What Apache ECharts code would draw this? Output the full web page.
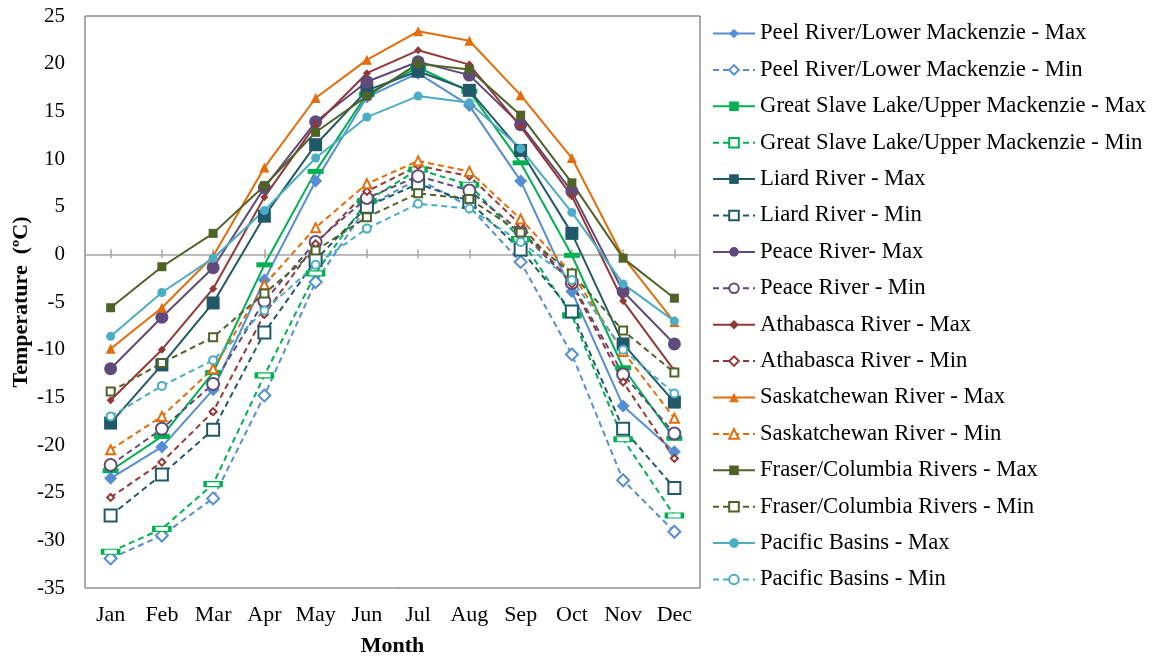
<!DOCTYPE html>
<html>
<head>
<meta charset="utf-8">
<script src="https://cdn.jsdelivr.net/npm/echarts@6/dist/echarts.min.js"></script>
<style>
  html, body { margin: 0; padding: 0; background: #fff; }
  #chart { width: 1158px; height: 658px; }
</style>
</head>
<body>
<div id="chart"></div>
<script>
// months on the x axis
var months = ['Jan', 'Feb', 'Mar', 'Apr', 'May', 'Jun', 'Jul', 'Aug', 'Sep', 'Oct', 'Nov', 'Dec'];

// monthly temperatures (ºC)
var peelMax   = [-23.5, -20.2, -14.2, -2.7, 7.7, 16.5, 19.0, 15.6, 7.7, -3.9, -15.9, -20.7];
var peelMin   = [-31.9, -29.5, -25.6, -14.8, -2.9, 5.0, 7.9, 5.0, -0.8, -10.5, -23.7, -29.1];
var gslMax    = [-22.7, -19.1, -12.4, -1.1, 8.7, 16.8, 19.6, 17.1, 9.6, -0.1, -11.9, -19.3];
var gslMin    = [-31.2, -28.8, -24.1, -12.7, -2.0, 5.6, 8.9, 7.3, 1.6, -6.4, -19.4, -27.4];
var liardMax  = [-17.7, -11.6, -5.1, 4.0, 11.5, 17.2, 19.2, 17.2, 10.9, 2.2, -9.4, -15.5];
var liardMin  = [-27.4, -23.1, -18.4, -8.2, -0.6, 5.0, 7.4, 5.5, 0.5, -6.0, -18.3, -24.5];
var peaceMax  = [-12.0, -6.6, -1.4, 7.0, 13.9, 18.1, 20.2, 18.8, 13.6, 6.6, -3.9, -9.4];
var peaceMin  = [-22.1, -18.3, -13.6, -4.9, 1.3, 5.9, 8.2, 6.7, 2.4, -3.0, -12.6, -18.8];
var athMax    = [-15.3, -10.0, -3.6, 6.0, 13.6, 19.0, 21.4, 19.9, 13.4, 6.1, -4.9, -12.2];
var athMin    = [-25.5, -21.8, -16.5, -6.3, 1.1, 6.6, 9.3, 8.2, 3.1, -3.1, -13.4, -21.4];
var saskMax   = [-9.9, -5.6, -0.2, 9.1, 16.4, 20.4, 23.4, 22.4, 16.7, 10.1, -0.3, -7.1];
var saskMin   = [-20.5, -17.0, -12.0, -3.2, 2.8, 7.4, 9.8, 8.7, 3.7, -2.0, -10.2, -17.2];
var fraserMax = [-5.6, -1.3, 2.2, 7.2, 12.8, 16.6, 20.0, 19.4, 14.6, 7.5, -0.4, -4.6];
var fraserMin = [-14.4, -11.4, -8.7, -4.1, 0.4, 3.9, 6.4, 5.8, 2.3, -2.0, -8.0, -12.4];
var pacMax    = [-8.6, -4.0, -0.4, 4.6, 10.1, 14.4, 16.6, 15.9, 11.1, 4.4, -3.1, -7.0];
var pacMin    = [-17.0, -13.8, -11.1, -5.9, -1.1, 2.7, 5.3, 4.8, 1.3, -2.7, -10.0, -14.6];

var FONT = '"Liberation Serif", "Times New Roman", serif';

// name, data, colour, symbol, size, dashed
function line(name, data, color, symbol, size, dashed) {
  return {
    name: name,
    type: 'line',
    data: data,
    symbol: symbol,
    symbolSize: size,
    showAllSymbol: true,
    lineStyle: { color: color, width: 2, type: dashed ? [6, 4] : 'solid' },
    itemStyle: { color: color, borderWidth: 1.5 },
    emphasis: { disabled: true }
  };
}

var myChart = echarts.init(document.getElementById('chart'));

myChart.setOption({
  animation: false,
  textStyle: { fontFamily: FONT },
  grid: {
    left: 85, right: 458, top: 16, bottom: 70,
    outerBoundsMode: 'none',
    containLabel: false,
    show: true, borderColor: '#595959', borderWidth: 1,
    backgroundColor: 'transparent'
  },
  legend: {
    orient: 'vertical',
    left: 707,
    top: 17,
    itemWidth: 42,
    itemHeight: 12,
    itemGap: 13.4,
    textStyle: { fontFamily: FONT, fontSize: 22.7, color: '#000', lineHeight: 22 }
  },
  xAxis: [
    {
      // labels at the bottom
      type: 'category',
      data: months,
      axisLine: { show: false, onZero: false },
      axisTick: { show: false },
      axisLabel: { interval: 0, fontFamily: FONT, fontSize: 22, color: '#000', margin: 16 },
      name: 'Month',
      nameLocation: 'middle',
      nameGap: 47,
      nameMoveOverlap: false,
      nameTextStyle: { fontFamily: FONT, fontSize: 22, fontWeight: 'bold', color: '#000' }
    },
    {
      // zero line, ticks going down
      type: 'category',
      data: months,
      axisLine: { show: true, onZero: true, onZeroAxisIndex: 0, lineStyle: { color: '#a6a6a6', width: 1.5 } },
      axisTick: { show: true, interval: 0, alignWithLabel: true, length: 5, lineStyle: { color: '#a6a6a6', width: 1.5 } },
      axisLabel: { show: false, interval: 0 }
    },
    {
      // zero line, ticks going up
      type: 'category',
      data: months,
      axisLine: { show: false, onZero: true, onZeroAxisIndex: 0 },
      axisTick: { show: true, interval: 0, inside: true, alignWithLabel: true, length: 4, lineStyle: { color: '#a6a6a6', width: 1.5 } },
      axisLabel: { show: false, interval: 0 }
    }
  ],
  yAxis: {
    type: 'value',
    min: -35,
    max: 25,
    interval: 5,
    axisLine: { show: false },
    axisTick: { show: false },
    splitLine: { show: false },
    axisLabel: { fontFamily: FONT, fontSize: 21, color: '#000', margin: 20 },
    name: 'Temperature  (ºC)',
    nameLocation: 'middle',
    nameGap: 53,
    nameMoveOverlap: false,
    nameTextStyle: { fontFamily: FONT, fontSize: 22, fontWeight: 'bold', color: '#000' }
  },
  series: [
    line('Peel River/Lower Mackenzie - Max', peelMax, '#558ED5', 'diamond', 13, false),
    line('Peel River/Lower Mackenzie - Min', peelMin, '#558ED5', 'emptyDiamond', 12, true),
    line('Great Slave Lake/Upper Mackenzie - Max', gslMax, '#00B050', 'rect', [16, 5], false),
    line('Great Slave Lake/Upper Mackenzie - Min', gslMin, '#00B050', 'emptyRect', [16, 5], true),
    line('Liard River - Max', liardMax, '#215968', 'rect', 13, false),
    line('Liard River - Min', liardMin, '#215968', 'emptyRect', 12, true),
    line('Peace River- Max', peaceMax, '#604A7B', 'circle', 13, false),
    line('Peace River - Min', peaceMin, '#604A7B', 'emptyCircle', 12, true),
    line('Athabasca River - Max', athMax, '#953735', 'diamond', 8, false),
    line('Athabasca River - Min', athMin, '#953735', 'emptyDiamond', 7, true),
    line('Saskatchewan River - Max', saskMax, '#E46C0A', 'triangle', 10, false),
    line('Saskatchewan River - Min', saskMin, '#E46C0A', 'emptyTriangle', 9, true),
    line('Fraser/Columbia Rivers - Max', fraserMax, '#4F6228', 'rect', 9, false),
    line('Fraser/Columbia Rivers - Min', fraserMin, '#4F6228', 'emptyRect', 8, true),
    line('Pacific Basins - Max', pacMax, '#4BACC6', 'circle', 9, false),
    line('Pacific Basins - Min', pacMin, '#4BACC6', 'emptyCircle', 8, true)
  ]
});
window.onresize = myChart.resize;
</script>
</body>
</html>
